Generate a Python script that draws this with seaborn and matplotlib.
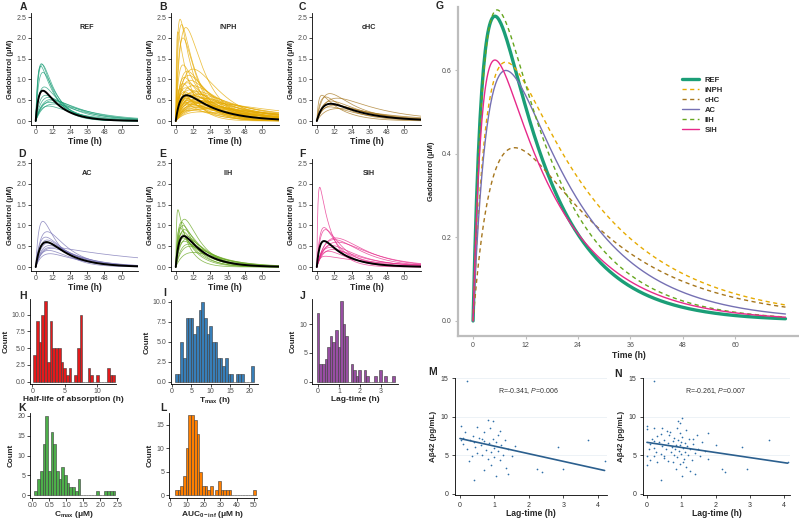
import numpy as np
import pandas as pd
import matplotlib
matplotlib.use("Agg")
import matplotlib.pyplot as plt
import seaborn as sns

# ------------------------------------------------------------------ data
groups = ["REF", "iNPH", "cHC", "AC", "IIH", "SIH"]
group_colors = ["#1B9E77", "#E6AB02", "#A6761D", "#7570B3", "#66A61E", "#E7298A"]
group_dashed = [False, True, True, False, True, False]

# group mean curves: Cmax (uM), Tmax (h), elimination half-life (h)
mean_cmax = [0.73, 0.62, 0.415, 0.60, 0.745, 0.625]
mean_tmax = [5.0, 7.5, 9.5, 7.5, 5.5, 5.0]
mean_thalf = [9.0, 15.0, 15.5, 11.5, 10.0, 10.5]

# individual subject curves per group (Cmax, Tmax, half-life)
ref_cmax = [1.38, 1.36, 1.32, 1.17, 0.82, 0.62, 0.57, 0.52, 0.49, 0.45, 0.41, 0.36]
ref_tmax = [4.0, 4.5, 3.5, 5.0, 6.0, 7.0, 9.0, 11.0, 12.0, 10.0, 13.0, 9.0]
ref_thalf = [6.5, 7.0, 7.5, 7.5, 9.0, 10.0, 12.0, 13.0, 15.0, 17.0, 19.0, 14.0]

inph_cmax = [2.45, 2.32, 2.25, 2.15, 2.0, 1.35, 1.25, 1.2, 1.1, 1.05, 0.98, 0.92, 0.85, 0.8,
             0.75, 0.72, 0.7, 0.68, 0.66, 0.64, 0.62, 0.6, 0.58, 0.56, 0.55, 0.54, 0.52, 0.5,
             0.5, 0.48, 0.47, 0.45, 0.44, 0.42, 0.4, 0.38, 0.36, 0.34, 0.32, 0.3, 0.28, 0.26,
             0.22, 0.65, 0.78, 0.9, 0.58, 0.45]
inph_tmax = [3.0, 4.0, 7.0, 1.5, 5.0, 5.0, 12.0, 8.0, 9.0, 6.0, 10.0, 8.0, 12.0, 7.0,
             10.0, 14.0, 6.0, 12.0, 9.0, 16.0, 11.0, 8.0, 14.0, 10.0, 18.0, 7.0, 12.0, 15.0,
             9.0, 20.0, 11.0, 13.0, 8.0, 16.0, 10.0, 18.0, 12.0, 20.0, 14.0, 22.0, 16.0, 10.0,
             18.0, 4.0, 3.0, 5.0, 2.0, 22.0]
inph_thalf = [7.0, 8.0, 9.0, 6.0, 7.0, 10.0, 12.0, 11.0, 12.0, 10.0, 14.0, 13.0, 16.0, 14.0,
              18.0, 20.0, 15.0, 22.0, 20.0, 24.0, 18.0, 16.0, 26.0, 20.0, 28.0, 14.0, 24.0, 30.0,
              18.0, 32.0, 22.0, 26.0, 20.0, 30.0, 25.0, 35.0, 28.0, 40.0, 30.0, 40.0, 35.0, 25.0,
              40.0, 12.0, 10.0, 11.0, 12.0, 45.0]

chc_cmax = [0.66, 0.62, 0.58, 0.55, 0.48, 0.42, 0.38, 0.34, 0.30]
chc_tmax = [9.0, 3.5, 6.0, 14.0, 10.0, 10.0, 12.0, 9.0, 15.0]
chc_thalf = [14.0, 10.0, 12.0, 22.0, 16.0, 18.0, 20.0, 16.0, 25.0]

ac_cmax = [1.10, 0.85, 0.72, 0.65, 0.58, 0.52, 0.48, 0.45, 0.40, 0.32]
ac_tmax = [5.0, 8.0, 7.0, 8.0, 9.0, 10.0, 12.0, 11.0, 9.0, 10.0]
ac_thalf = [8.0, 11.0, 12.0, 10.0, 12.0, 14.0, 50.0, 15.0, 13.0, 15.0]

iih_cmax = [1.38, 1.15, 1.08, 1.0, 0.95, 0.9, 0.85, 0.8, 0.75, 0.7, 0.68, 0.62, 0.55, 0.5, 0.35]
iih_tmax = [1.5, 6.0, 4.0, 5.0, 3.0, 6.0, 5.0, 4.0, 7.0, 5.0, 8.0, 6.0, 9.0, 10.0, 12.0]
iih_thalf = [5.0, 8.0, 7.0, 8.0, 7.0, 9.0, 9.0, 8.0, 10.0, 10.0, 11.0, 11.0, 12.0, 13.0, 15.0]

sih_cmax = [1.92, 0.95, 0.90, 0.70, 0.66, 0.60, 0.52, 0.47, 0.42, 0.38, 0.26]
sih_tmax = [2.0, 5.0, 6.0, 13.0, 12.0, 14.0, 10.0, 9.0, 11.0, 8.0, 6.0]
sih_thalf = [6.0, 8.0, 9.0, 14.0, 13.0, 16.0, 14.0, 12.0, 15.0, 12.0, 28.0]

subject_params = [
    (ref_cmax, ref_tmax, ref_thalf),
    (inph_cmax, inph_tmax, inph_thalf),
    (chc_cmax, chc_tmax, chc_thalf),
    (ac_cmax, ac_tmax, ac_thalf),
    (iih_cmax, iih_tmax, iih_thalf),
    (sih_cmax, sih_tmax, sih_thalf),
]

time_ticks = [0, 12, 24, 36, 48, 60]
conc_ticks = [0.0, 0.5, 1.0, 1.5, 2.0, 2.5]
conc_labels = ["0.0", "0.5", "1.0", "1.5", "2.0", "2.5"]
g_conc_ticks = [0.0, 0.2, 0.4, 0.6]
g_conc_labels = ["0.0", "0.2", "0.4", "0.6"]

# histograms (30 bins each): counts and outer bin edges
hl_counts = [4, 9, 6, 10, 12, 3, 9, 5, 5, 5, 3, 2, 1, 2, 0, 1, 5, 10, 0, 0, 2, 1, 0, 1, 0, 0, 0, 2, 1, 1]
hl_edges = (0.15, 12.75)
tmax_counts = [1, 1, 5, 3, 8, 8, 8, 6, 7, 9, 10, 8, 6, 7, 5, 5, 3, 3, 2, 3, 1, 1, 0, 1, 1, 1, 0, 0, 0, 2]
tmax_edges = (0.78, 21.2)
lag_counts = [12, 3, 3, 4, 6, 8, 7, 9, 6, 14, 10, 8, 0, 3, 2, 1, 2, 0, 2, 1, 0, 0, 1, 0, 2, 0, 1, 0, 0, 1]
lag_edges = (-0.062, 3.658)
cmax_counts = [1, 4, 6, 13, 20, 6, 16, 13, 6, 4, 7, 5, 3, 2, 2, 1, 4, 0, 0, 0, 0, 0, 0, 1, 0, 0, 1, 1, 1, 1]
cmax_edges = (0.06, 2.44)
auc_counts = [1, 1, 2, 4, 10, 17, 17, 16, 13, 5, 2, 2, 1, 2, 0, 1, 3, 1, 1, 1, 1, 0, 0, 0, 0, 0, 0, 0, 0, 1]
auc_edges = (3.0, 51.0)

# scatter panels M and N: lag-time (h) vs Abeta42 (pg/mL)
m_lag = [0.2, 0.02, 0.82, 0.97, 0.88, 1.16, 0.5, 0.38, 0.09, 0.04, 0.63, 0.4, 1.05, 1.4, 0.7,
         2.25, 2.38, 3.0, 3.72, 2.85, 4.2, 0.1, 0.2, 0.3, 0.35, 0.45, 0.5, 0.55, 0.6, 0.65,
         0.7, 0.75, 0.8, 0.85, 0.9, 0.95, 1.0, 1.0, 1.05, 1.1, 1.15, 1.2, 1.25, 1.3, 1.4,
         1.5, 1.6, 0.25, 0.15, 0.7, 1.1, 0.4, 0.9, 1.35]
m_abeta = [14.6, 8.8, 9.6, 9.5, 8.6, 8.2, 8.7, 7.5, 7.3, 7.0, 7.2, 1.8, 2.3, 2.6, 3.1,
           3.2, 2.8, 3.3, 7.05, 6.15, 4.3, 6.5, 5.8, 7.0, 4.9, 6.1, 5.3, 7.3, 6.4, 5.0,
           6.9, 5.7, 4.6, 6.6, 5.4, 7.1, 6.0, 4.8, 6.8, 5.6, 4.4, 6.3, 5.1, 7.0, 5.8,
           4.9, 6.2, 4.3, 8.0, 8.1, 7.7, 6.7, 3.8, 3.4]
m_fit_lag = [0.0, 4.2]
m_fit_abeta = [7.2, 3.05]
m_note = "R=-0.341, $\\mathit{P}$=0.006"

n_lag = [0.21, 0.0, 0.0, 0.2, 0.45, 0.9, 1.02, 0.95, 0.88, 1.77, 3.57, 2.77, 2.0, 2.2, 2.27,
         2.91, 4.1, 0.41, 1.41, 1.02, 1.78, 0.0, 0.0, 0.2, 0.5, 0.5,
         0.1, 0.15, 0.2, 0.25, 0.3, 0.35, 0.4, 0.45, 0.5, 0.55, 0.6, 0.62, 0.65, 0.7, 0.72,
         0.75, 0.78, 0.8, 0.82, 0.85, 0.88, 0.9, 0.92, 0.95, 0.97, 1.0, 1.0, 1.03, 1.05, 1.08,
         1.1, 1.12, 1.15, 1.18, 1.2, 1.22, 1.25, 1.3, 1.35, 1.4, 1.45, 1.5, 1.55, 1.6, 1.7,
         0.05, 0.1, 0.3, 0.68, 0.85, 1.25, 0.58, 0.4, 1.15, 1.35, 0.2, 0.75, 1.05, 0.95]
n_abeta = [14.6, 8.8, 8.4, 8.5, 8.6, 9.5, 9.8, 9.2, 8.6, 7.9, 7.05, 6.1, 6.3, 3.2, 2.8,
           3.3, 4.2, 1.8, 2.6, 2.3, 4.5, 3.7, 4.9, 4.9, 4.9, 4.7,
           6.5, 7.2, 6.0, 5.5, 7.5, 6.8, 5.2, 6.2, 7.0, 5.8, 6.6, 4.3, 7.6, 5.4, 6.1,
           6.9, 5.0, 7.3, 5.9, 6.4, 4.8, 7.0, 5.6, 6.3, 3.9, 6.8, 5.2, 7.4, 6.0, 4.6,
           6.6, 5.5, 3.5, 6.2, 5.1, 7.1, 5.8, 4.4, 6.5, 5.3, 7.6, 5.9, 4.9, 6.7, 5.6,
           5.8, 4.4, 4.1, 8.0, 3.3, 3.0, 8.2, 7.8, 8.3, 7.2, 6.9, 4.2, 4.1, 7.9]
n_fit_lag = [0.0, 4.1]
n_fit_abeta = [6.7, 4.0]
n_note = "R=-0.261, $\\mathit{P}$=0.007"

# ------------------------------------------------------------------ style
sns.set_theme(style="ticks")
plt.rcParams["font.family"] = ["Liberation Sans", "DejaVu Sans"]
plt.rcParams["mathtext.fontset"] = "custom"
plt.rcParams["mathtext.rm"] = "Liberation Sans"
plt.rcParams["mathtext.it"] = "Liberation Sans:italic"
plt.rcParams["mathtext.bf"] = "Liberation Sans:bold"

W, H = 799, 520
fig = plt.figure(figsize=(W / 100, H / 100), dpi=100)


def add_ax(l, t, r, b):
    return fig.add_axes([l / W, 1 - b / H, (r - l) / W, (b - t) / H])


def base_style(ax, tick_color="#4D4D4D", spine_color="black", lw=0.6):
    sns.despine(ax=ax)
    for s in ["left", "bottom"]:
        ax.spines[s].set_color(spine_color)
        ax.spines[s].set_linewidth(lw)
    ax.tick_params(labelsize=5, length=2, width=0.5, pad=1.2,
                   color=spine_color, labelcolor=tick_color)
    ax.grid(False)


def letter(x, y, s):
    fig.text(x / W, 1 - y / H, s, ha="center", va="center",
             fontsize=7.5, fontweight="bold")


t = np.linspace(0, 71.5, 360)


def pk_curve(cmax, tmax, thalf):
    ke = np.log(2) / thalf
    lo, hi = ke * 1.000001, 30.0
    for _ in range(90):
        mid = 0.5 * (lo + hi)
        if np.log(mid / ke) / (mid - ke) > tmax:
            lo = mid
        else:
            hi = mid
    ka = 0.5 * (lo + hi)
    shape = np.exp(-ke * t) - np.exp(-ka * t)
    peak = np.exp(-ke * tmax) - np.exp(-ka * tmax)
    return cmax * shape / peak


# ------------------------------------------------------------------ A-F
pk_boxes = [(31, 13, 138, 125), (171, 13, 279, 125), (312, 13, 421, 125),
            (31, 159, 138, 271), (171, 159, 279, 271), (312, 159, 421, 271)]
pk_letters = [("A", 23, 7), ("B", 163, 7), ("C", 302, 7),
              ("D", 22, 154), ("E", 163, 154), ("F", 302, 154)]

for gi, g in enumerate(groups):
    ax = add_ax(*pk_boxes[gi])
    cm, tm, th = subject_params[gi]
    frames = [pd.DataFrame({"t": t, "c": pk_curve(a, b, c), "id": k})
              for k, (a, b, c) in enumerate(zip(cm, tm, th))]
    df = pd.concat(frames, ignore_index=True)
    sns.lineplot(data=df, x="t", y="c", units="id", estimator=None,
                 color=group_colors[gi], lw=0.55, alpha=0.75, ax=ax, legend=False)
    sns.lineplot(x=t, y=pk_curve(mean_cmax[gi], mean_tmax[gi], mean_thalf[gi]),
                 color="black", lw=1.4, ax=ax)
    ax.set_xlim(-3.3, 71.5)
    ax.set_ylim(-0.096, 2.6)
    ax.set_xticks(time_ticks)
    ax.set_yticks(conc_ticks, conc_labels)
    base_style(ax)
    ax.set_xlabel("Time (h)", fontsize=6.2, fontweight="bold", labelpad=0.5)
    ax.set_ylabel("Gadobutrol (μM)", fontsize=5.5, fontweight="bold", labelpad=2)
    ax.text(36, 2.25, g, ha="center", va="center", fontsize=5.2, fontweight="bold")
    letter(pk_letters[gi][1], pk_letters[gi][2], pk_letters[gi][0])

# ------------------------------------------------------------------ G
axg = add_ax(458, 7, 799, 336)
for gi, g in enumerate(groups):
    ls = (0, (3, 2.5)) if group_dashed[gi] else "-"
    sns.lineplot(x=t, y=pk_curve(mean_cmax[gi], mean_tmax[gi], mean_thalf[gi]),
                 color=group_colors[gi], lw=2.4 if g == "REF" else 1.0,
                 linestyle=ls, label=g, ax=axg)
axg.set_xlim(-3.45, 74.6)
axg.set_ylim(-0.036, 0.752)
axg.set_xticks(time_ticks)
axg.set_yticks(g_conc_ticks, g_conc_labels)
base_style(axg, spine_color="#BDBDBD", lw=1.6)
axg.tick_params(length=2.5, width=0.8, pad=2)
axg.set_xlabel("Time (h)", fontsize=6.2, fontweight="bold", labelpad=1)
axg.set_ylabel("Gadobutrol (μM)", fontsize=5.5, fontweight="bold", labelpad=5)
leg = axg.legend(loc="upper left", bbox_to_anchor=(0.645, 0.80), frameon=False,
                 fontsize=5.5, handlelength=2.2, labelspacing=0.35,
                 handletextpad=0.8, borderpad=0)
for txt in leg.get_texts():
    txt.set_fontweight("bold")
letter(440, 6, "G")

# ------------------------------------------------------------------ H-L
hist_specs = [
    dict(L="H", lp=(23, 296), box=(30, 299, 116, 384), counts=hl_counts, edges=hl_edges,
         color="#E41A1C", xlabel="Half-life of absorption (h)", xlim=(-0.35, 12.9),
         ylim=(-0.34, 12.35), xt=[0, 5, 10], xtl=["0", "5", "10"],
         yt=[0, 2.5, 5, 7.5, 10], ytl=["0.0", "2.5", "5.0", "7.5", "10.0"], lpad=0.5),
    dict(L="I", lp=(165, 293), box=(171, 300, 258, 384), counts=tmax_counts, edges=tmax_edges,
         color="#377EB8", xlabel="T$_{\\mathbf{max}}$ (h)", xlim=(-0.26, 22.2),
         ylim=(-0.29, 10.2), xt=[0, 5, 10, 15, 20], xtl=["0", "5", "10", "15", "20"],
         yt=[0, 2.5, 5, 7.5, 10], ytl=["0.0", "2.5", "5.0", "7.5", "10.0"], lpad=-0.3),
    dict(L="J", lp=(303, 296), box=(312, 299, 398, 384), counts=lag_counts, edges=lag_edges,
         color="#984EA3", xlabel="Lag-time (h)", xlim=(-0.29, 3.81),
         ylim=(-0.4, 14.4), xt=[0, 1, 2, 3], xtl=["0", "1", "2", "3"],
         yt=[0, 5, 10], ytl=["0", "5", "10"], lpad=0.5),
    dict(L="K", lp=(22, 408), box=(30, 413, 118, 498), counts=cmax_counts, edges=cmax_edges,
         color="#4DAF4A", xlabel="C$_{\\mathbf{max}}$ (μM)", xlim=(-0.07, 2.52),
         ylim=(-0.75, 20.75), xt=[0, 0.5, 1, 1.5, 2, 2.5],
         xtl=["0.0", "0.5", "1.0", "1.5", "2.0", "2.5"],
         yt=[0, 5, 10, 15, 20], ytl=["0", "5", "10", "15", "20"], lpad=-0.3),
    dict(L="L", lp=(163, 408), box=(169, 413, 257, 498), counts=auc_counts, edges=auc_edges,
         color="#FF7F00", xlabel="AUC$_{\\mathbf{0-inf}}$ (μM h)", xlim=(-0.6, 51.8),
         ylim=(-0.63, 17.5), xt=[0, 10, 20, 30, 40, 50],
         xtl=["0", "10", "20", "30", "40", "50"],
         yt=[0, 5, 10, 15], ytl=["0", "5", "10", "15"], lpad=-0.3),
]

for sp in hist_specs:
    ax = add_ax(*sp["box"])
    edges = np.linspace(sp["edges"][0], sp["edges"][1], len(sp["counts"]) + 1)
    hdf = pd.DataFrame({"value": 0.5 * (edges[:-1] + edges[1:]),
                        "n": np.asarray(sp["counts"], dtype=float)})
    sns.histplot(data=hdf, x="value", weights="n", bins=list(edges), color=sp["color"],
                 edgecolor="#3A3A3A", linewidth=0.4, alpha=1.0, ax=ax)
    ax.set_xlim(*sp["xlim"])
    ax.set_ylim(*sp["ylim"])
    ax.set_xticks(sp["xt"], sp["xtl"])
    ax.set_yticks(sp["yt"], sp["ytl"])
    base_style(ax)
    ax.tick_params(axis="x", pad=1.0)
    ax.set_xlabel(sp["xlabel"], fontsize=6.0, fontweight="bold", labelpad=sp["lpad"])
    ax.set_ylabel("Count", fontsize=5.8, fontweight="bold", labelpad=2)
    letter(sp["lp"][0], sp["lp"][1], sp["L"])

# ------------------------------------------------------------------ M, N
scatter_specs = [
    dict(L="M", lp=(433, 372), box=(455, 378, 607, 495), x=m_lag, y=m_abeta,
         fx=m_fit_lag, fy=m_fit_abeta, note=m_note, xlim=(-0.145, 4.27)),
    dict(L="N", lp=(618, 374), box=(643, 378, 790, 495), x=n_lag, y=n_abeta,
         fx=n_fit_lag, fy=n_fit_abeta, note=n_note, xlim=(-0.116, 4.17)),
]
for sp in scatter_specs:
    ax = add_ax(*sp["box"])
    for yv in [5, 10, 15]:
        ax.axhline(yv, color="#E6EDF3", lw=0.5, zorder=0)
    sns.scatterplot(x=sp["x"], y=sp["y"], s=1.5, color="#2F6FA8", linewidth=0, ax=ax)
    sns.lineplot(x=sp["fx"], y=sp["fy"], color="#2B5F8E", lw=1.2, ax=ax)
    ax.set_xlim(*sp["xlim"])
    ax.set_ylim(-0.13, 15.05)
    ax.set_xticks([0, 1, 2, 3, 4], ["0", "1", "2", "3", "4"])
    ax.set_yticks([0, 5, 10, 15], ["0", "5", "10", "15"])
    base_style(ax, tick_color="#333333")
    ax.tick_params(length=2.5, pad=2.2)
    ax.text(2.0, 13.35, sp["note"], ha="center", va="center", fontsize=5, color="#333333")
    ax.set_xlabel("Lag-time (h)", fontsize=6.2, fontweight="bold", labelpad=0.5)
    ax.set_ylabel("Aβ42 (pg/mL)", fontsize=5.8, fontweight="bold", labelpad=3)
    letter(sp["lp"][0], sp["lp"][1], sp["L"])

fig.savefig("out.png", dpi=100)
